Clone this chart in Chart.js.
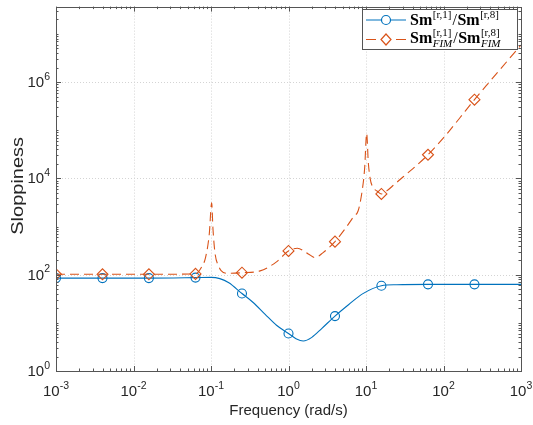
<!DOCTYPE html>
<html>
<head>
<meta charset="utf-8">
<script src="https://cdn.jsdelivr.net/npm/chart.js@4"></script>
<style>
  html, body { margin: 0; padding: 0; background: #fff; }
  #wrap { width: 533px; height: 425px; position: relative; }
</style>
</head>
<body>
<div id="wrap"><canvas id="chart"></canvas></div>
<script>
// frequencies where the markers sit (every 0.6 decade)
const markerFreq = [0.001, 0.00398, 0.0158, 0.0631, 0.251, 1, 3.98, 15.8, 63.1, 251];

// Sm[r,1]/Sm[r,8]
const blueFreq = [0.001, 0.00398, 0.0158, 0.0631, 0.1, 0.13, 0.17, 0.251, 0.35, 0.5, 0.7, 1,
  1.25, 1.55, 2, 2.7, 3.98, 6, 9, 15.8, 25, 63.1, 251, 1000];
const blueSm = [85, 85, 85, 87, 88, 83, 68, 40.6, 26.5, 15, 8.9, 6.0,
  4.7, 4.2, 5.0, 7.7, 13.8, 24, 40, 59, 62, 63, 63, 63];

// Sm_FIM[r,1]/Sm_FIM[r,8]
const orangeFreq = [0.001, 0.00398, 0.0158, 0.0631, 0.075, 0.085, 0.095, 0.102, 0.106, 0.113,
  0.125, 0.135, 0.16, 0.251, 0.43, 0.7, 1, 1.3, 1.8, 2.2, 2.8, 3.98, 5.5, 7, 7.9, 8.9, 9.6,
  10.2, 10.7, 11.3, 12.1, 14, 15.8, 18.5, 23, 30, 40, 63.1, 110, 163, 251, 398, 655, 1000];
const orangeSm = [102, 102, 102, 104, 141, 227, 700, 3100, 900, 270,
  153, 121, 107, 110, 120, 185, 312, 355, 270, 227, 288, 486, 944, 1650, 2100, 5400, 16000,
  86000, 22000, 10000, 6800, 5400, 4750, 5500, 7400, 10700, 15800, 31000, 83000, 182000, 432000, 1040000, 2660000, 5900000];

// tick labels (powers of ten)
const xDecades = [-3, -2, -1, 0, 1, 2, 3];
const yDecades = [0, 2, 4, 6];
const xMin = 1e-3, xMax = 1e3, yMin = 1, yMax = 3.7e7;

const BLUE = '#0072BD';
const ORANGE = '#D95319';
const AXIS = '#262626';
const sans = '"Liberation Sans", Arial, Helvetica, sans-serif';
const serif = '"Liberation Serif", "Times New Roman", serif';

const toPoints = (xs, ys) => xs.map((f, i) => ({ x: f, y: ys[i] }));
const isMarker = (c) => c.raw && markerFreq.includes(c.raw.x);

function powLabel(ctx, e, x, y, align) {
  const base = '10', exp = String(e);
  ctx.font = '15px ' + sans;
  const wb = ctx.measureText(base).width;
  ctx.font = '10.5px ' + sans;
  const we = ctx.measureText(exp).width;
  let left = align === 'right' ? x - wb - we : x - (wb + we) / 2;
  ctx.textAlign = 'left';
  ctx.font = '15px ' + sans;
  ctx.fillText(base, left, y);
  ctx.font = '10.5px ' + sans;
  ctx.fillText(exp, left + wb, y - 7.5);
}

function rich(ctx, x, y, parts) {
  parts.forEach(p => {
    if (p.sup !== undefined) {
      ctx.font = '11px ' + serif;
      const w1 = ctx.measureText(p.sup).width;
      ctx.fillText(p.sup, x, y - 7);
      let w2 = 0;
      if (p.sub) {
        ctx.font = 'italic 11px ' + serif;
        w2 = ctx.measureText(p.sub).width;
        ctx.fillText(p.sub, x, y + 4);
      }
      x += Math.max(w1, w2) + 1;
    } else {
      ctx.font = p.f;
      ctx.fillText(p.t, x, y);
      x += ctx.measureText(p.t).width + 0.5;
    }
  });
}

const axisDeco = {
  id: 'axisDeco',
  beforeDatasetsDraw(chart) {
    const { ctx, chartArea: a, scales: { x, y } } = chart;
    ctx.save();
    ctx.strokeStyle = '#d4d4d4';
    ctx.lineWidth = 1;
    ctx.setLineDash([1, 2]);
    xDecades.slice(1, -1).forEach(e => {
      const px = Math.round(x.getPixelForValue(Math.pow(10, e))) + 0.5;
      ctx.beginPath(); ctx.moveTo(px, a.top); ctx.lineTo(px, a.bottom); ctx.stroke();
    });
    yDecades.slice(1).forEach(e => {
      const py = Math.round(y.getPixelForValue(Math.pow(10, e))) + 0.5;
      ctx.beginPath(); ctx.moveTo(a.left, py); ctx.lineTo(a.right, py); ctx.stroke();
    });
    ctx.restore();
  },
  afterDatasetsDraw(chart) {
    const { ctx, chartArea: a, scales: { x, y } } = chart;
    ctx.save();
    // frame
    ctx.strokeStyle = '#555';
    ctx.lineWidth = 1;
    ctx.strokeRect(Math.round(a.left) + 0.5, Math.round(a.top) + 0.5,
      Math.round(a.right - a.left), Math.round(a.bottom - a.top));

    // inward ticks on all four sides
    ctx.beginPath();
    for (let e = -3; e < 3; e++) {
      for (let m = 1; m <= 9; m++) {
        const v = m * Math.pow(10, e);
        const px = Math.round(x.getPixelForValue(v)) + 0.5;
        const len = m === 1 ? 5 : 2.5;
        ctx.moveTo(px, a.bottom); ctx.lineTo(px, a.bottom - len);
        ctx.moveTo(px, a.top); ctx.lineTo(px, a.top + len);
      }
    }
    for (let e = 0; e <= 7; e++) {
      for (let m = 1; m <= 9; m++) {
        const v = m * Math.pow(10, e);
        if (v > yMax) break;
        const py = Math.round(y.getPixelForValue(v)) + 0.5;
        const len = (m === 1 && yDecades.includes(e)) ? 5 : 2.5;
        ctx.moveTo(a.left, py); ctx.lineTo(a.left + len, py);
        ctx.moveTo(a.right, py); ctx.lineTo(a.right - len, py);
      }
    }
    ctx.stroke();

    // tick labels
    ctx.fillStyle = AXIS;
    ctx.textBaseline = 'alphabetic';
    xDecades.forEach(e => powLabel(ctx, e, x.getPixelForValue(Math.pow(10, e)), 396, 'center'));
    yDecades.forEach(e => powLabel(ctx, e, a.left - 6, y.getPixelForValue(Math.pow(10, e)) + 5, 'right'));

    // axis titles
    ctx.font = '15px ' + sans;
    ctx.textAlign = 'center';
    ctx.fillText('Frequency (rad/s)', (a.left + a.right) / 2, 415);
    ctx.save();
    ctx.font = '16px ' + sans;
    ctx.translate(23, (a.top + a.bottom) / 2 - 3);
    ctx.rotate(-Math.PI / 2);
    ctx.scale(1.25, 1);
    ctx.fillText('Sloppiness', 0, 0);
    ctx.restore();

    // legend
    ctx.fillStyle = '#fff';
    ctx.fillRect(362.5, 9.5, 155, 40);
    ctx.strokeStyle = '#555';
    ctx.strokeRect(362.5, 9.5, 155, 40);

    ctx.lineWidth = 1.2;
    ctx.strokeStyle = BLUE;
    ctx.beginPath(); ctx.moveTo(366, 20); ctx.lineTo(406, 20); ctx.stroke();
    ctx.fillStyle = '#fff';
    ctx.beginPath(); ctx.arc(386, 20, 4.5, 0, Math.PI * 2); ctx.fill(); ctx.stroke();

    ctx.strokeStyle = ORANGE;
    ctx.beginPath();
    ctx.moveTo(366, 39.5); ctx.lineTo(376, 39.5);
    ctx.moveTo(396, 39.5); ctx.lineTo(406, 39.5);
    ctx.stroke();
    ctx.beginPath();
    ctx.moveTo(386, 34); ctx.lineTo(391, 39.5); ctx.lineTo(386, 45); ctx.lineTo(381, 39.5); ctx.closePath();
    ctx.fill(); ctx.stroke();

    ctx.fillStyle = '#000';
    ctx.textAlign = 'left';
    const big = 'bold 16px ' + serif, reg = '16px ' + serif;
    rich(ctx, 410, 25, [{ t: 'Sm', f: big }, { sup: '[r,1]' }, { t: '/', f: reg }, { t: 'Sm', f: big }, { sup: '[r,8]' }]);
    rich(ctx, 410, 43, [{ t: 'Sm', f: big }, { sup: '[r,1]', sub: 'FIM' }, { t: '/', f: reg }, { t: 'Sm', f: big }, { sup: '[r,8]', sub: 'FIM' }]);
    ctx.restore();
  }
};

new Chart(document.getElementById('chart'), {
  type: 'line',
  data: {
    datasets: [
      {
        label: 'Sm[r,1]/Sm[r,8]',
        data: toPoints(blueFreq, blueSm),
        borderColor: BLUE,
        borderWidth: 1.1,
        cubicInterpolationMode: 'monotone',
        pointStyle: 'circle',
        pointRadius: (c) => isMarker(c) ? 4.5 : 0,
        pointBorderColor: BLUE,
        pointBackgroundColor: 'rgba(0,0,0,0)',
        pointBorderWidth: 1.1,
        fill: false,
        order: 2
      },
      {
        label: 'Sm_FIM[r,1]/Sm_FIM[r,8]',
        data: toPoints(orangeFreq, orangeSm),
        borderColor: ORANGE,
        borderWidth: 1.1,
        borderDash: [9, 5],
        cubicInterpolationMode: 'monotone',
        pointStyle: 'rectRot',
        pointRadius: (c) => isMarker(c) ? 5.5 : 0,
        pointBorderColor: ORANGE,
        pointBackgroundColor: 'rgba(0,0,0,0)',
        pointBorderWidth: 1.1,
        fill: false,
        order: 1
      }
    ]
  },
  options: {
    responsive: true,
    maintainAspectRatio: false,
    animation: false,
    layout: { padding: { left: 56, right: 12, top: 4, bottom: 54 } },
    plugins: { legend: { display: false }, tooltip: { enabled: false } },
    scales: {
      x: { type: 'logarithmic', min: xMin, max: xMax, display: false },
      y: { type: 'logarithmic', min: yMin, max: yMax, display: false }
    }
  },
  plugins: [axisDeco]
});
</script>
</body>
</html>
